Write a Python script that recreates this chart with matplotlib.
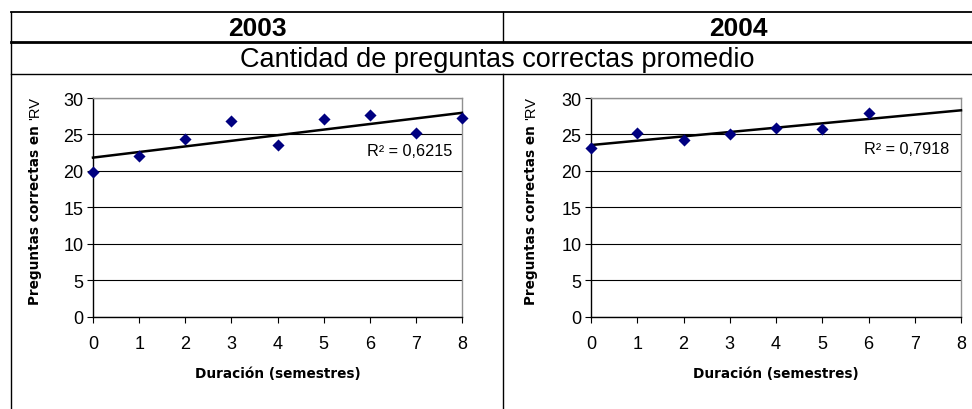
import matplotlib
matplotlib.use("Agg")
import matplotlib.pyplot as plt
import numpy as np

plt.rcParams["font.family"] = ["Liberation Sans", "DejaVu Sans"]

# --- data ---
years = ["2003", "2004"]
subtitle = "Cantidad de preguntas correctas promedio"
dur_2003 = [0, 1, 2, 3, 4, 5, 6, 7, 8]
score_2003 = [19.9, 22.0, 24.4, 26.8, 23.6, 27.1, 27.7, 25.2, 27.3]
dur_2004 = [0, 1, 2, 3, 4, 5, 6]
score_2004 = [23.2, 25.2, 24.3, 25.1, 25.9, 25.7, 27.9]
r2_labels = ["R² = 0,6215", "R² = 0,7918"]
x_ticks = [0, 1, 2, 3, 4, 5, 6, 7, 8]
y_ticks = [0, 5, 10, 15, 20, 25, 30]
xlabel = "Duración (semestres)"
ylabel_bold = "Preguntas correctas en "
ylabel_tail = "'RV"

W, H = 972, 410
fig = plt.figure(figsize=(W / 100, H / 100), dpi=100)


def fx(px):
    return px / W


def fy(py):
    return 1 - py / H


# --- table frame ---
line_kw = dict(color="black", transform=fig.transFigure)
fig.add_artist(plt.Line2D([fx(11), 1], [fy(13), fy(13)], lw=1.3, **line_kw))
fig.add_artist(plt.Line2D([fx(11), 1], [fy(43), fy(43)], lw=2.0, **line_kw))
fig.add_artist(plt.Line2D([fx(11), 1], [fy(75), fy(75)], lw=1.0, **line_kw))
fig.add_artist(plt.Line2D([fx(11), fx(11)], [fy(13), 0], lw=1.0, **line_kw))
fig.add_artist(plt.Line2D([fx(503), fx(503)], [fy(13), fy(43)], lw=1.0, **line_kw))
fig.add_artist(plt.Line2D([fx(503), fx(503)], [fy(75), 0], lw=1.0, **line_kw))

fig.text(fx(257), fy(29), years[0], ha="center", va="center", fontsize=19, fontweight="bold")
fig.text(fx(738), fy(29), years[1], ha="center", va="center", fontsize=19, fontweight="bold")
fig.text(fx(497), fy(60), subtitle, ha="center", va="center", fontsize=19.5)

panels = [
    (dur_2003, score_2003, r2_labels[0], (93, 462), 35, (452, 152)),
    (dur_2004, score_2004, r2_labels[1], (591, 961), 531, (949, 150)),
]

bold_font = ["DejaVu Sans"]
renderer = fig.canvas.get_renderer()
for xs, ys, r2, (left, right), ylab_x, (r2x, r2y) in panels:
    top, bottom = 99, 317.5
    ax = fig.add_axes([fx(left), fy(bottom), fx(right - left), (bottom - top) / H])
    ax.set_xlim(0, 8)
    ax.set_ylim(0, 30)
    ax.set_xticks(x_ticks)
    ax.set_yticks(y_ticks)
    ax.tick_params(axis="both", direction="out", length=4, width=0.8, labelsize=13,
                   pad=3)
    ax.tick_params(axis="x", pad=9)
    for s in ("top", "right"):
        ax.spines[s].set_color("#909090")
        ax.spines[s].set_linewidth(1.0)
    for s in ("left", "bottom"):
        ax.spines[s].set_color("black")
        ax.spines[s].set_linewidth(1.0)
    ax.yaxis.grid(True, color="black", lw=0.8)
    ax.set_axisbelow(True)

    # linear trendline, extended across the full axis
    slope, icpt = np.polyfit(xs, ys, 1)
    tx = np.array([0, 8])
    ax.plot(tx, slope * tx + icpt, color="black", lw=1.8, zorder=3, clip_on=False)
    ax.scatter(xs, ys, marker="D", s=38, color="#000080", zorder=4, clip_on=False,
               linewidths=0)

    fig.text(fx(r2x), fy(r2y), r2, ha="right", va="center", fontsize=11.7)
    fig.text(fx((left + right) / 2), fy(374), xlabel, ha="center", va="center",
             fontsize=9.8, fontweight="bold", family=bold_font)

    t1 = fig.text(fx(ylab_x), fy(305), ylabel_bold, rotation=90, ha="center",
                  va="bottom", fontsize=9.8, fontweight="bold", family=bold_font)
    bb = t1.get_window_extent(renderer)
    fig.text(fx(ylab_x), bb.y1 / H, ylabel_tail, rotation=90, ha="center",
             va="bottom", fontsize=10.5)

fig.savefig("out.png", dpi=100)
